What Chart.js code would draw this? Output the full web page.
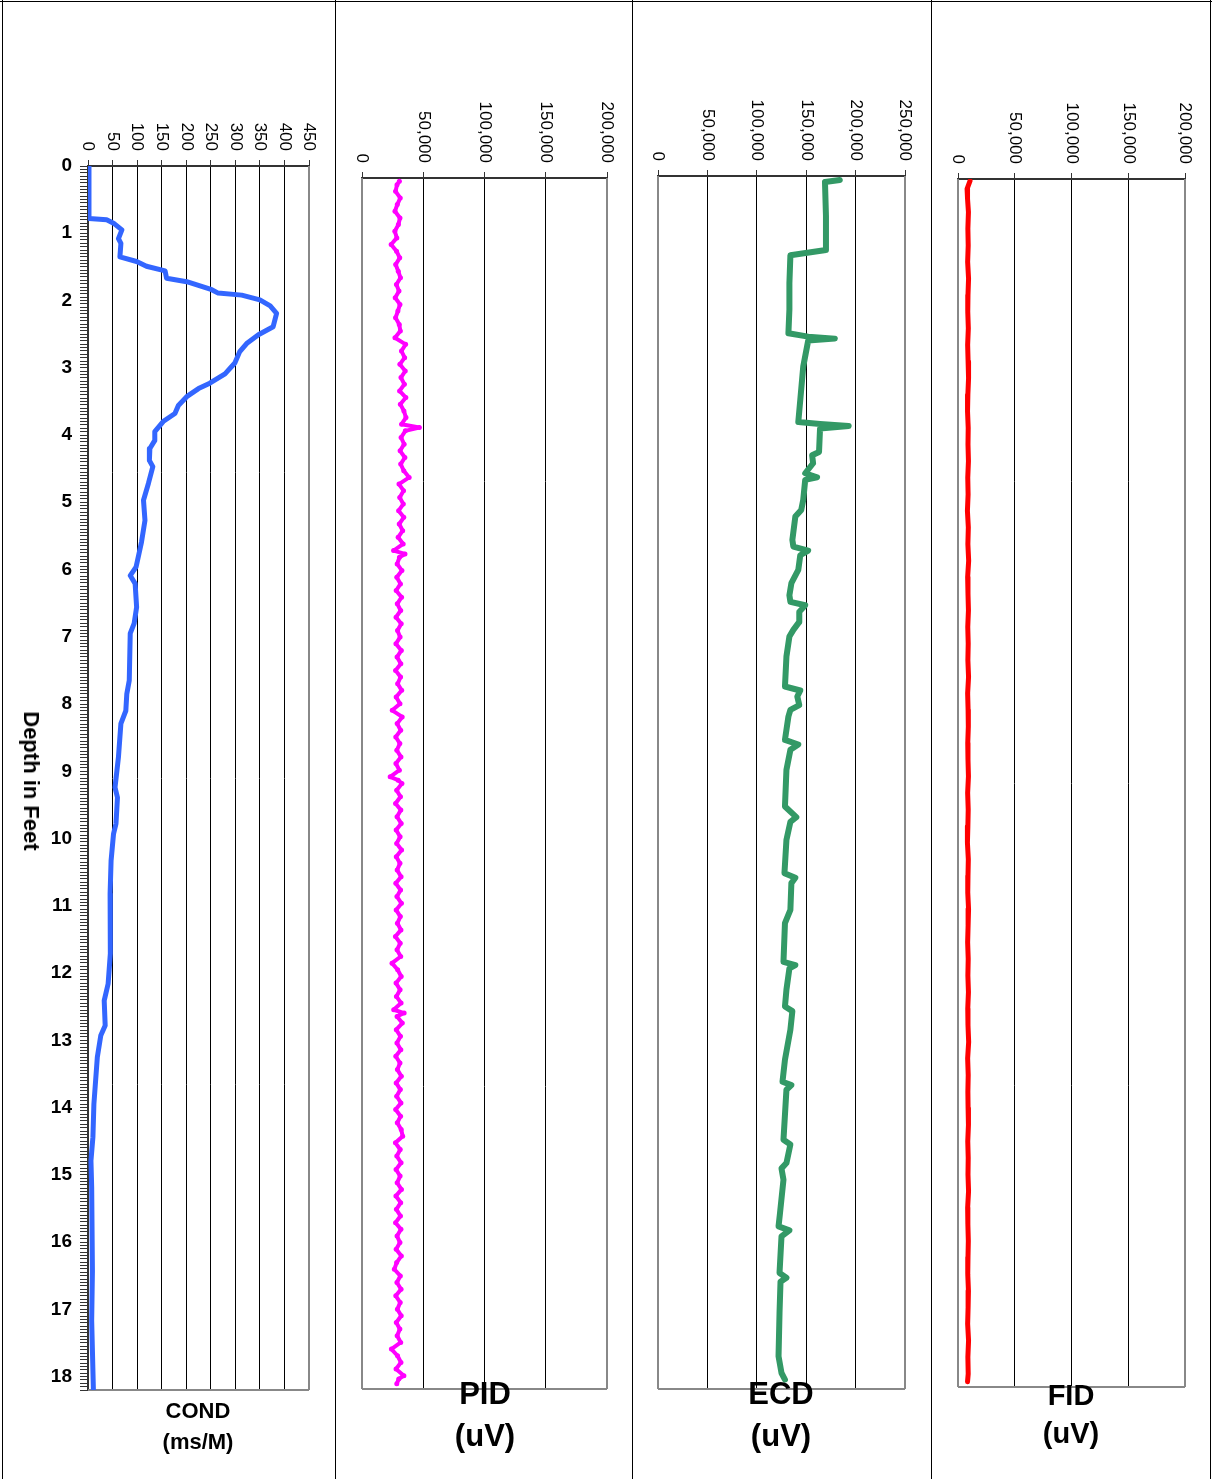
<!DOCTYPE html>
<html>
<head>
<meta charset="utf-8">
<script src="https://cdn.jsdelivr.net/npm/chart.js"></script>
<style>
  html, body { margin: 0; padding: 0; background: #fff; }
  body { width: 1212px; height: 1479px; position: relative; overflow: hidden; font-family: "Liberation Sans", Arial, sans-serif; }
  canvas { position: absolute; top: 0; }
  .vline { position: absolute; top: 0; width: 1px; height: 1479px; background: #000; z-index: 5; }
  .hline { position: absolute; left: 0; height: 1px; width: 1212px; background: #000; z-index: 5; }
  .title { position: absolute; font-weight: bold; color: #000; white-space: nowrap; line-height: 1; transform: translate(-50%, -50%); text-align: center; z-index: 6; }
</style>
</head>
<body>
<canvas id="cCond" width="335" height="1479" style="left:0px"></canvas>
<canvas id="cPid" width="297" height="1479" style="left:335px"></canvas>
<canvas id="cEcd" width="299" height="1479" style="left:632px"></canvas>
<canvas id="cFid" width="281" height="1479" style="left:931px"></canvas>

<div class="vline" style="left:2px"></div>
<div class="vline" style="left:335px"></div>
<div class="vline" style="left:632px"></div>
<div class="vline" style="left:931px"></div>
<div class="vline" style="left:1210px"></div>
<div class="hline" style="top:1px"></div>

<div class="title" style="left:31px; top:781px; font-size:22px; transform: translate(-50%,-50%) rotate(90deg);">Depth in Feet</div>
<div class="title" style="left:198px; top:1411px; font-size:22px;">COND</div>
<div class="title" style="left:198px; top:1442px; font-size:22px;">(ms/M)</div>
<div class="title" style="left:485px; top:1393px; font-size:31px;">PID</div>
<div class="title" style="left:485px; top:1435px; font-size:31px;">(uV)</div>
<div class="title" style="left:781px; top:1393px; font-size:31px;">ECD</div>
<div class="title" style="left:781px; top:1435px; font-size:31px;">(uV)</div>
<div class="title" style="left:1071px; top:1395px; font-size:29px;">FID</div>
<div class="title" style="left:1071px; top:1433px; font-size:29px;">(uV)</div>

<script>
// ---------------- DATA ----------------
const depthLabels = [0,1,2,3,4,5,6,7,8,9,10,11,12,13,14,15,16,17,18];
const depthMax = 18.2;

const condTicks = [0,50,100,150,200,250,300,350,400,450];
const pidTicks  = [0,50000,100000,150000,200000];
const ecdTicks  = [0,50000,100000,150000,200000,250000];
const fidTicks  = [0,50000,100000,150000,200000];

const condDepth = [0,0.78,0.80,0.85,0.95,1.08,1.15,1.35,1.42,1.49,1.56,1.67,1.72,1.84,1.89,1.92,1.99,2.08,2.19,2.39,2.51,2.64,2.76,2.93,3.09,3.23,3.31,3.43,3.56,3.68,3.80,3.95,4.08,4.20,4.38,4.47,4.72,4.97,5.27,5.59,5.96,6.09,6.21,6.56,6.80,6.95,7.65,7.85,8.10,8.29,8.79,9.24,9.39,9.78,9.93,10.33,10.82,11.37,11.71,12.16,12.41,12.78,12.93,13.25,13.95,14.44,14.79,15.19,16.43,17.17,18.2];
const condValues = [2,2,38,52,69,62,67,65,99,119,157,160,201,252,265,313,350,371,384,377,347,323,309,299,279,248,225,201,184,177,153,136,136,126,125,132,123,113,116,109,98,86,96,99,94,86,84,79,77,67,62,55,60,57,52,47,45,45,46,41,33,35,26,19,12,10,6,7.5,9,7.5,11];

const pidDepth = [0.05,0.1,0.2,0.3,0.4,0.5,0.6,0.7,0.8,0.9,1.0,1.1,1.2,1.3,1.4,1.5,1.6,1.7,1.8,1.9,
  2.0,2.1,2.2,2.3,2.4,2.5,2.6,2.7,2.8,2.9,3.0,3.1,3.2,3.3,3.4,3.5,3.6,3.7,3.75,3.8,3.9,
  4.0,4.1,4.2,4.3,4.4,4.5,4.6,4.7,4.8,4.9,5.0,5.1,5.2,5.3,5.4,5.5,5.6,5.65,5.7,5.8,5.9,
  6.0,6.1,6.2,6.3,6.4,6.5,6.6,6.7,6.8,6.9,7.0,7.1,7.2,7.3,7.4,7.5,7.6,7.7,7.8,7.9,
  8.0,8.1,8.2,8.3,8.4,8.5,8.6,8.7,8.8,8.9,9.0,9.05,9.1,9.2,9.3,9.4,9.5,9.6,9.7,9.8,9.9,
  10.0,10.1,10.2,10.3,10.4,10.5,10.6,10.7,10.8,10.9,11.0,11.1,11.2,11.3,11.4,11.5,11.6,11.7,11.8,11.9,
  12.0,12.1,12.2,12.3,12.4,12.5,12.55,12.6,12.7,12.8,12.9,13.0,13.1,13.2,13.3,13.4,13.5,13.6,13.7,13.8,13.9,
  14.0,14.1,14.2,14.3,14.4,14.5,14.6,14.7,14.8,14.9,15.0,15.1,15.2,15.3,15.4,15.5,15.6,15.7,15.8,15.9,
  16.0,16.1,16.2,16.3,16.4,16.5,16.6,16.7,16.8,16.9,17.0,17.1,17.2,17.3,17.4,17.5,17.6,17.7,17.8,17.9,
  18.0,18.05,18.12];
const pidValues = [30500,28600,27400,31200,28800,26900,31000,29700,26800,28400,23800,28200,30800,27500,29600,31400,28100,30200,27100,31000,
  29300,27400,30400,31300,26900,
  35600,32200,34800,30900,35300,31800,34600,30700,35800,31300,34200,35900,32300,46800,35400,31900,
  34400,31100,35000,31600,34100,38500,30200,33900,30800,33700,29900,34100,30400,33200,29500,33600,25800,35100,
  30600,28700,32600,28400,31400,27900,32300,28800,31600,27800,32000,29000,31100,27700,32100,28600,31700,27400,31500,29100,32400,27900,31000,
  24700,32800,28700,31600,27600,30900,28400,31800,27700,30500,
  23000,29500,32600,28300,31400,27400,31700,28600,32000,27900,31100,
  28300,32300,28000,31000,28700,31900,27600,31500,28500,32200,27900,31300,28900,31800,27300,31200,28600,31600,24500,29100,
  32000,27800,31100,28100,31900,25900,34400,28600,32900,28000,31400,28500,31700,27600,31000,28900,32100,27900,31300,28300,31800,
  27500,31500,28800,32000,33200,27300,31200,28400,31900,27800,31100,28700,32200,27700,31600,28100,31400,27400,31800,28600,
  31000,27900,32100,28300,26400,31300,28500,31900,27600,31200,28900,32000,28000,30900,28700,31600,24000,29000,31800,27800,
  34200,30000,28400];

const ecdDepth = [0.06,0.09,0.6,1.11,1.19,1.61,2.0,2.36,2.41,2.44,2.47,2.86,3.36,3.69,3.72,3.75,3.79,4.14,4.19,4.31,4.46,4.52,4.56,4.86,5.01,5.11,5.46,5.56,5.62,5.69,5.91,6.11,6.29,6.39,6.44,6.54,6.69,6.81,6.91,7.21,7.66,7.72,7.81,7.94,8.01,8.11,8.46,8.53,8.61,8.91,9.46,9.62,9.69,9.96,10.46,10.53,10.61,11.01,11.21,11.79,11.84,11.89,12.21,12.46,12.53,12.81,13.26,13.59,13.64,13.71,14.46,14.53,14.81,14.89,15.06,15.56,15.76,15.82,15.91,16.46,16.53,16.59,17.06,17.71,17.96,18.06];
const ecdValues = [184000,169000,170000,170000,134000,133000,133000,132000,152000,179000,152000,147000,144000,142000,164000,193000,164000,163000,156000,157000,149000,161000,149000,147000,145000,139000,136000,137000,152000,144000,142000,135000,133000,134000,149000,143000,143000,137000,133000,130000,128500,144000,141000,143000,134000,132000,128500,142000,134000,130000,128500,140000,134000,130000,128000,139000,135000,134000,128500,127000,139000,133000,130000,128500,136000,134000,128500,126000,135000,130000,127000,134000,130000,125000,127000,123500,122000,133000,125000,123000,130000,124000,123000,122000,125000,128500];

const fidDepth = [0.03,0.15,0.3,0.5,0.75,1.0,1.25,1.5,1.75,2.0,2.25,2.5,2.75,3.0,3.25,3.5,3.75,4.0,4.25,4.5,4.75,5.0,5.25,5.5,5.75,6.0,6.25,6.5,6.75,7.0,7.25,7.5,7.75,8.0,8.25,8.5,8.75,9.0,9.25,9.5,9.75,10.0,10.25,10.5,10.75,11.0,11.25,11.5,11.75,12.0,12.25,12.5,12.75,13.0,13.25,13.5,13.75,14.0,14.25,14.5,14.75,15.0,15.25,15.5,15.75,16.0,16.25,16.5,16.75,17.0,17.25,17.5,17.75,18.0,18.12];
const fidValues = [10600,8000,8400,9200,8700,9000,8500,9300,8800,8600,9100,8500,8900,9300,8700,8400,9000,8800,9200,8600,8900,8300,9100,8700,9400,8500,8800,9200,8600,9000,8700,9300,8500,8900,9100,8600,8800,9200,8500,9000,8700,8300,9100,8800,8600,9300,8900,8500,9000,8700,9200,8600,8800,9400,8500,9000,8700,8900,9200,8600,9000,8800,9300,8500,8700,9100,8800,8600,9200,8900,8500,9300,8700,9000,8400];

// ---------------- HELPERS ----------------
const FONT = '"Liberation Sans", Arial, sans-serif';
function pts(d, v) { return d.map((y, i) => ({ x: v[i], y: y })); }
const minorDepthTicks = [];
for (let i = 0; i <= Math.round(depthMax * 20); i++) minorDepthTicks.push(Math.round(i * 5) / 100);

const framePlugin = {
  id: 'frame',
  beforeDatasetsDraw(chart, args, opts) {
    const { ctx, chartArea: a } = chart;
    ctx.save();
    ctx.strokeStyle = '#888';
    ctx.lineWidth = 2;
    ctx.beginPath();
    if (!opts.hasYAxis) { ctx.moveTo(a.left, a.top); ctx.lineTo(a.left, a.bottom); }
    ctx.moveTo(a.left, a.bottom); ctx.lineTo(a.right, a.bottom);
    ctx.moveTo(a.right, a.top); ctx.lineTo(a.right, a.bottom);
    ctx.stroke();
    ctx.restore();
  },
  afterDraw(chart, args, opts) {
    const { ctx, chartArea: a } = chart;
    const xs = chart.scales.x;
    ctx.save();
    ctx.font = '17px ' + FONT;
    ctx.fillStyle = '#000';
    ctx.textAlign = 'right';
    ctx.textBaseline = 'middle';
    xs.ticks.forEach(t => {
      const px = xs.getPixelForValue(t.value);
      ctx.save();
      ctx.translate(px, a.top - 15);
      ctx.rotate(Math.PI / 2);
      ctx.fillText(t.value.toLocaleString('en-US'), 0, 0);
      ctx.restore();
    });
    ctx.restore();
  }
};

function makeChart(id, cfg) {
  const xt = cfg.ticks;
  const yScale = cfg.hasYAxis ? {
    type: 'linear', reverse: true, min: 0, max: depthMax, position: 'left',
    afterBuildTicks: s => { s.ticks = minorDepthTicks.map(v => ({ value: v })); },
    afterFit: s => { s.width = cfg.yWidth; },
    ticks: {
      autoSkip: false, padding: 8, color: '#000',
      font: { family: FONT, size: 19, weight: 'bold' },
      callback: v => depthLabels.includes(v) ? String(v) : ''
    },
    grid: { drawOnChartArea: false, drawTicks: true, tickLength: 8, tickColor: '#333', tickWidth: 1 },
    border: { display: true, color: '#333', width: 2 }
  } : { type: 'linear', reverse: true, min: 0, max: depthMax, display: false };

  return new Chart(document.getElementById(id), {
    type: 'line',
    data: {
      datasets: [{
        data: pts(cfg.depth, cfg.values),
        borderColor: cfg.color,
        backgroundColor: cfg.color,
        borderWidth: cfg.lw,
        pointRadius: cfg.pr || 0,
        pointBorderWidth: 0,
        pointHoverRadius: 0,
        tension: 0,
        fill: false,
        borderJoinStyle: 'round',
        borderCapStyle: 'round'
      }]
    },
    options: {
      responsive: false,
      animation: false,
      devicePixelRatio: 1,
      layout: { padding: cfg.pad },
      plugins: { legend: { display: false }, tooltip: { enabled: false }, frame: { hasYAxis: cfg.hasYAxis } },
      scales: {
        x: {
          type: 'linear', position: 'top', min: 0, max: xt[xt.length - 1],
          afterBuildTicks: s => { s.ticks = xt.map(v => ({ value: v })); },
          afterFit: s => { s.height = 0; },
          ticks: { display: false },
          grid: {
            color: c => (c.index > 0 && c.index < xt.length - 1) ? '#000' : 'rgba(0,0,0,0)',
            lineWidth: 1, drawTicks: true, tickLength: 6, tickColor: '#333', tickWidth: 1
          },
          border: { display: true, color: '#333', width: 2 }
        },
        y: yScale
      }
    },
    plugins: [framePlugin]
  });
}

makeChart('cCond', { depth: condDepth, values: condValues, ticks: condTicks, color: '#3366FF', lw: 5,
  hasYAxis: true, yWidth: 88, pad: { left: 0, right: 26, top: 166, bottom: 89 } });
makeChart('cPid', { depth: pidDepth, values: pidValues, ticks: pidTicks, color: '#FF00FF', lw: 4, pr: 2.5,
  hasYAxis: false, pad: { left: 27, right: 25, top: 178, bottom: 90 } });
makeChart('cEcd', { depth: ecdDepth, values: ecdValues, ticks: ecdTicks, color: '#339966', lw: 6,
  hasYAxis: false, pad: { left: 26, right: 26, top: 176, bottom: 90 } });
makeChart('cFid', { depth: fidDepth, values: fidValues, ticks: fidTicks, color: '#FF0000', lw: 5, pr: 1.5,
  hasYAxis: false, pad: { left: 27, right: 27, top: 179, bottom: 92 } });
</script>
</body>
</html>
